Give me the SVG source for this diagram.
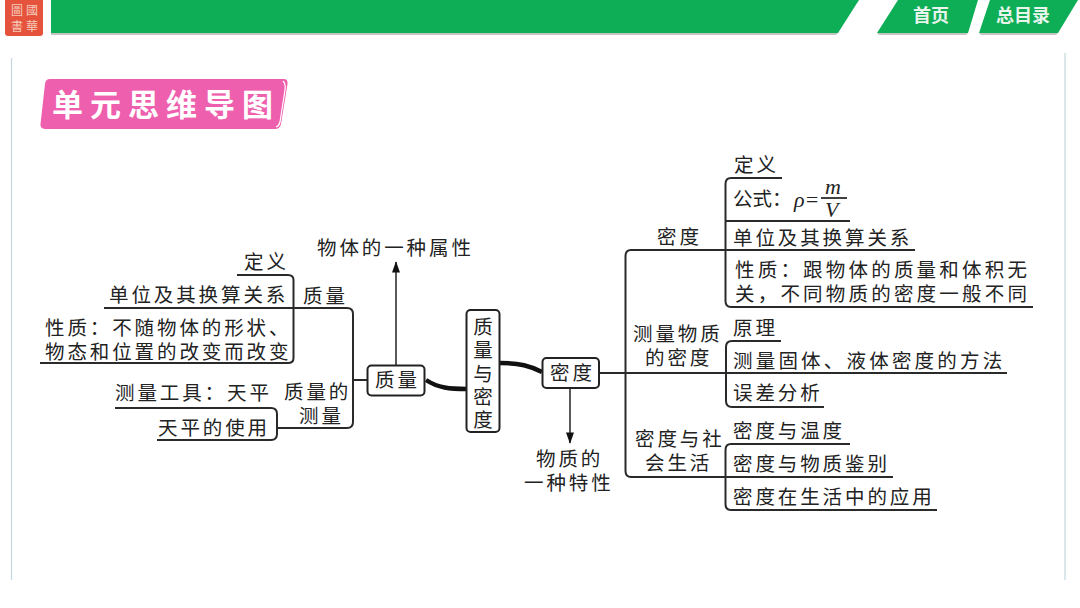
<svg xmlns="http://www.w3.org/2000/svg" width="1080" height="608" viewBox="0 0 1080 608">
<style>
text{font-family:"Noto Sans CJK SC","Noto Sans",sans-serif;fill:#222;font-size:19.500px;letter-spacing:2.900px}
.w{letter-spacing:3.200px}
.c{fill:none;stroke:#2a2a2a;stroke-width:2}
.a{fill:none;stroke:#222;stroke-width:1.500}
.t{fill:none;stroke:#111;stroke-width:1.600}
.thick{fill:none;stroke:#111;stroke-width:4.500}
.box{fill:#fff;stroke:#222;stroke-width:2}
.green{fill:#0dae55}
.shadow{fill:#c4c4c4}
.nav{fill:#e9f5ec;font-size:18px;font-weight:700;letter-spacing:0}
.seal{font-family:"Noto Sans CJK TC",sans-serif;fill:#f6cdbd;font-size:12px;letter-spacing:3px}
.head{fill:#fff;font-size:31px;font-weight:700;letter-spacing:7px}
.m{font-family:"Liberation Serif",serif;font-style:italic;font-size:22px;letter-spacing:0}
.f{letter-spacing:0}
.v{writing-mode:vertical-rl;letter-spacing:3.700px}
.side{stroke:#c3d8de;stroke-width:1.200;fill:none}
</style>
<defs>
<marker id="arr" viewBox="0 0 14 10" refX="13" refY="5" markerWidth="14" markerHeight="8" markerUnits="userSpaceOnUse" orient="auto"><path d="M14 5L0 10V0Z" fill="#111"/></marker>
</defs>
<rect width="1080" height="608" fill="#fff"/>
<g id="header">
<polygon class="shadow" points="51,33 838,33 836,35 51,35"/>
<polygon class="green" points="51,0 859,0 838,33 51,33"/>
<polygon class="shadow" points="877,33 968,33 966,35 879,35"/>
<polygon class="green" points="898,0 978,0 968,33 877,33"/>
<polygon class="shadow" points="979,33 1058,33 1056,35 981,35"/>
<polygon class="green" points="990,0 1078,0 1058,33 979,33"/>
<text class="nav" x="913" y="22">首页</text>
<text class="nav" x="996" y="22">总目录</text>
<rect x="5" y="-4" width="38" height="40" rx="3" fill="#e5533c"/>
<text class="seal" x="11" y="15">圖國<tspan x="11" y="31">書華</tspan></text>
</g>
<path class="side" d="M11.500 58V580M1065 53V580"/>
<g id="title">
<path d="M46 79H284Q288 79 287.500 84L281 124Q280 129 275 129H45Q40 129 40.500 124L45 84Q45.500 79 50 79Z" fill="#ee5fae"/>
<path d="M283 81Q286 84 285 90L280 122Q279 126 276 127" fill="none" stroke="#fff" stroke-width="1.200"/>
<text class="head" x="52" y="116">单元思维导图</text>
</g>
<g id="connectors">
<path class="c" d="M237 275H288Q293.500 275 293.500 280V358Q293.500 363 288 363H40"/>
<path class="c" d="M104 308H347Q353 308 353 314V422Q353 428 347 428H277"/>
<path class="c" d="M353 380H368"/>
<path class="c" d="M115 408H271Q277 408 277 414V434Q277 440 271 440H157"/>
<path class="a" d="M396 365V262" marker-end="url(#arr)"/>
<path class="a" d="M570 388V443" marker-end="url(#arr)"/>
<path class="thick" d="M426 380C438 388 450 389 467 389"/>
<path class="thick" d="M500 363C520 363 530 366 542 372"/>
<path class="c" d="M599 373H1007"/>
<path class="c" d="M915 250H631Q625.500 250 625.500 256V471Q625.500 477 631 477H893"/>
<path class="c" d="M782 178H731Q725.500 178 725.500 184V301Q725.500 307 731 307H1033"/>
<path class="c" d="M725 221H850"/>
<path class="t" d="M821 198H847"/>
<path class="c" d="M781 341H732Q726 341 726 347V401Q726 407 732 407H824"/>
<path class="c" d="M850 444H731Q725.500 444 725.500 450V504Q725.500 510 731 510H937"/>
</g>
<g id="node-zhiliang-dingyi"><text x="244" y="269">定义</text></g>
<g id="node-zhiliang-danwei"><text x="109" y="302">单位及其换算关系</text></g>
<g id="node-zhiliang-label"><text x="303" y="303">质量</text></g>
<g id="node-zhiliang-xingzhi"><text x="45" y="335">性质：不随物体的形状、<tspan x="45" y="359">物态和位置的改变而改变</tspan></text></g>
<g id="node-celiang-gongju"><text x="115" y="400">测量工具：天平</text></g>
<g id="node-zhiliang-celiang"><text x="284" y="399">质量的<tspan x="299" y="423">测量</tspan></text></g>
<g id="node-tianping"><text x="158" y="435">天平的使用</text></g>
<g id="node-shuxing"><text x="317" y="255">物体的一种属性</text></g>
<g id="node-zhiliang"><rect class="box" x="367.500" y="365.500" width="57" height="30" rx="4"/><text x="375" y="387">质量</text></g>
<g id="node-root"><rect class="box" x="466.500" y="310" width="33" height="122" rx="4"/><text class="v" x="483" y="317">质量与密度</text></g>
<g id="node-midu"><rect class="box" x="542.500" y="358" width="56.500" height="30" rx="4"/><text x="550" y="380">密度</text></g>
<g id="node-texing"><text x="536" y="466">物质的<tspan x="524" y="490">一种特性</tspan></text></g>
<g id="node-midu-label"><text x="657" y="244">密度</text></g>
<g id="node-midu-dingyi"><text x="734" y="172">定义</text></g>
<g id="node-gongshi"><text class="f" x="733" y="206">公式：</text><text class="m" x="794" y="207">ρ=</text><text class="m" x="825" y="194">m</text><text class="m" x="825" y="217">V</text></g>
<g id="node-midu-danwei"><text x="733" y="245">单位及其换算关系</text></g>
<g id="node-midu-xingzhi"><text class="w" x="735" y="277">性质：跟物体的质量和体积无<tspan x="735" y="301">关，不同物质的密度一般不同</tspan></text></g>
<g id="node-celiang-label"><text x="633" y="341">测量物质<tspan x="645" y="365">的密度</tspan></text></g>
<g id="node-yuanli"><text x="733" y="335">原理</text></g>
<g id="node-fangfa"><text class="w" x="733" y="368">测量固体、液体密度的方法</text></g>
<g id="node-wucha"><text x="733" y="400">误差分析</text></g>
<g id="node-shehui-label"><text x="635" y="446">密度与社<tspan x="645" y="470">会生活</tspan></text></g>
<g id="node-wendu"><text x="733" y="438">密度与温度</text></g>
<g id="node-jianbie"><text x="733" y="471">密度与物质鉴别</text></g>
<g id="node-yingyong"><text x="733" y="504">密度在生活中的应用</text></g>
</svg>
